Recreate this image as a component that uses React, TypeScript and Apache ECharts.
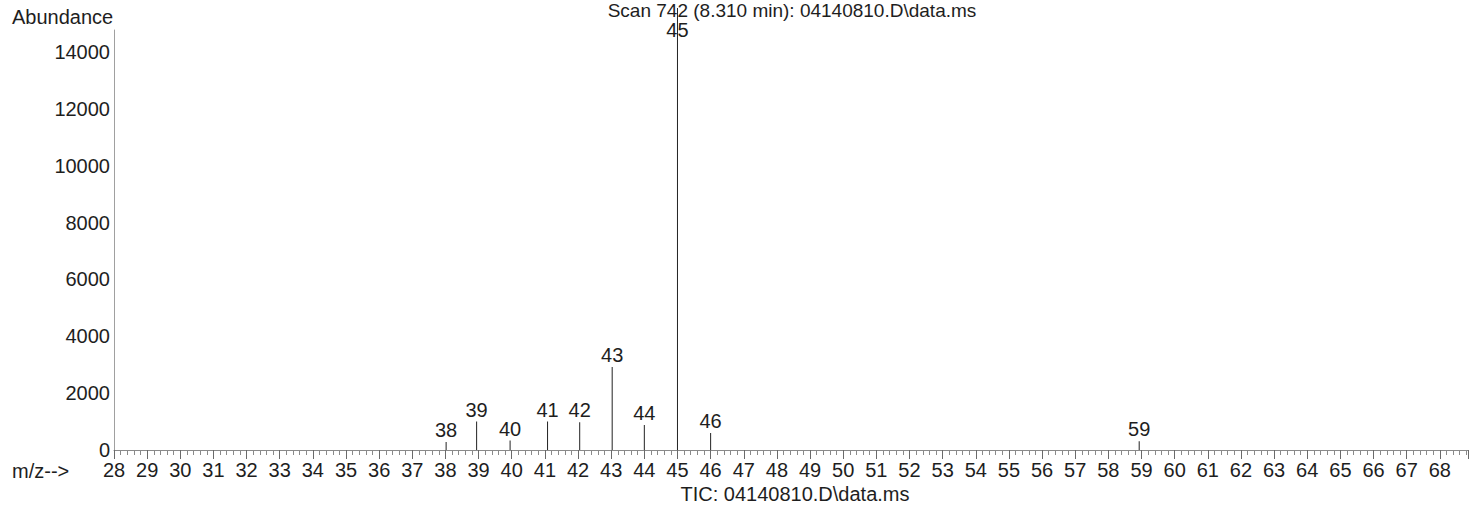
import React, { useEffect, useRef } from "react";
import * as echarts from "echarts";

const peakMz = [38.02, 38.94, 39.95, 41.08, 42.05, 43.03, 44.0, 45.0, 46.0, 58.93];
const peakAbundance = [280, 1000, 330, 1000, 975, 2920, 880, 15550, 600, 310];
const peakLabels = ["38", "39", "40", "41", "42", "43", "44", "45", "46", "59"];

const xMin = 28;
const xMax = 68.85;
const yMax = 14780;
const yInterval = 2000;

const titleText = "Scan 742 (8.310 min): 04140810.D\\data.ms";
const footText = "TIC: 04140810.D\\data.ms";
const yName = "Abundance";
const xName = "m/z-->";

const FONT = "'Liberation Sans', Arial, Helvetica, sans-serif";
const TXT = "#1e1e1e";
const FS = 20;

export default function App() {
  const ref = useRef<HTMLDivElement>(null);
  useEffect(() => {
    if (!ref.current) return;
    const chart = echarts.init(ref.current, undefined, { renderer: "svg" });
    const data = peakMz.map((mz, i) => {
      const item: any = { name: peakLabels[i], value: [mz, peakAbundance[i]] };
      if (peakAbundance[i] > yMax) {
        item.label = { position: "insideTop", distance: 0, offset: [0, 12] };
      }
      return item;
    });
    chart.setOption({
      animation: false,
      backgroundColor: "#ffffff",
      textStyle: { fontFamily: FONT },
      grid: { left: 114, right: 10, top: 30, bottom: 60, containLabel: false },
      xAxis: {
        type: "value",
        min: xMin,
        max: xMax,
        interval: 1,
        axisLine: { show: true, lineStyle: { color: "#8a8a8a", width: 1 } },
        axisTick: { show: true, length: 9, lineStyle: { color: "#6a6a6a", width: 1 } },
        minorTick: { show: true, splitNumber: 5, length: 5, lineStyle: { color: "#8a8a8a", width: 1 } },
        splitLine: { show: false },
        minorSplitLine: { show: false },
        axisLabel: {
          show: true,
          margin: 10,
          fontSize: FS,
          color: TXT,
          fontFamily: FONT,
          showMaxLabel: false,
          formatter: (v: number) => (Math.abs(v - Math.round(v)) < 1e-6 ? String(Math.round(v)) : ""),
        },
      },
      yAxis: {
        type: "value",
        min: 0,
        max: yMax,
        interval: yInterval,
        axisLine: { show: true, lineStyle: { color: "#a0a0a0", width: 1 } },
        axisTick: { show: false },
        splitLine: { show: false },
        axisLabel: {
          show: true,
          margin: 4,
          fontSize: FS,
          color: TXT,
          fontFamily: FONT,
          showMaxLabel: false,
          formatter: (v: number) => String(v),
        },
      },
      series: [
        {
          type: "bar",
          barWidth: 1,
          clip: false,
          data,
          itemStyle: { color: "#222222" },
          label: {
            show: true,
            position: "top",
            distance: 2,
            formatter: "{b}",
            fontSize: FS,
            color: TXT,
            fontFamily: FONT,
          },
        },
      ],
      graphic: [
        {
          type: "text",
          x: 12,
          y: 17,
          style: { text: yName, fontSize: FS, fill: TXT, fontFamily: FONT, align: "left", verticalAlign: "middle" },
        },
        {
          type: "text",
          x: 792,
          y: 10,
          style: { text: titleText, fontSize: 19, fill: TXT, fontFamily: FONT, align: "center", verticalAlign: "middle" },
        },
        {
          type: "text",
          x: 12,
          y: 471,
          style: { text: xName, fontSize: FS, fill: TXT, fontFamily: FONT, align: "left", verticalAlign: "middle" },
        },
        {
          type: "text",
          x: 795,
          y: 494,
          style: { text: footText, fontSize: FS, fill: TXT, fontFamily: FONT, align: "center", verticalAlign: "middle" },
        },
      ],
    });
    return () => chart.dispose();
  }, []);
  return <div ref={ref} style={{ width: 1478, height: 510, position: "absolute", left: 0, top: 0 }} />;
}
